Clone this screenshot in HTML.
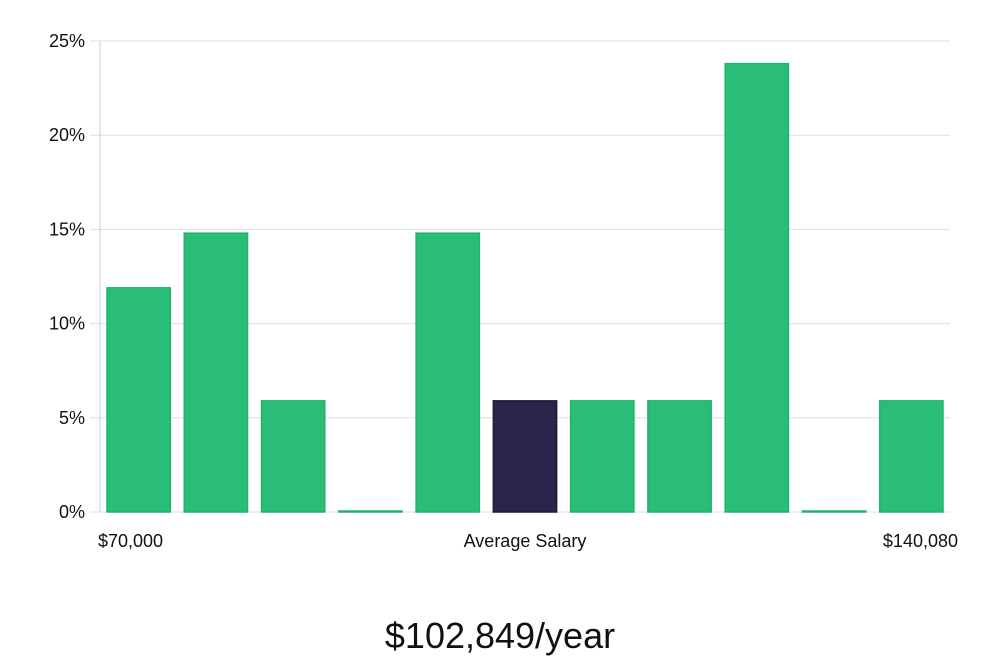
<!DOCTYPE html>
<html><head><meta charset="utf-8"><style>
body{margin:0;background:#fff;font-family:"Liberation Sans","DejaVu Sans",sans-serif;}
svg{display:block}
</style></head><body>
<svg width="1000" height="660" id="chart">
<g id="grid"></g><g id="bars"></g><g id="labels"></g>
<line x1="100" y1="41" x2="100" y2="512" stroke="#ccc"/>
<text x="98" y="547" font-size="18" fill="#111">$70,000</text>
<text x="525" y="547" font-size="18" fill="#111" text-anchor="middle">Average Salary</text>
<text x="958" y="547" font-size="18" fill="#111" text-anchor="end">$140,080</text>
<text x="500" y="648" font-size="36" fill="#111" text-anchor="middle">$102,849/year</text>
</svg>
<script>
const values=[11.9,14.8,5.9,0,14.8,5.9,5.9,5.9,23.8,0,5.9];
const highlightIndex=5;
const yTicks=[0,5,10,15,20,25];
const yTickLabels=["0%","5%","10%","15%","20%","25%"];
const NS="http://www.w3.org/2000/svg";
const x0=100,x1=950,yBase=512,yTop=41,yMax=25;
function y(v){return yBase-(v/yMax)*(yBase-yTop);}
const band=(x1-x0)/values.length;
function bx(i){return x0+i*band+7;}
const grid=document.getElementById('grid'),bars=document.getElementById('bars'),labels=document.getElementById('labels');
yTicks.forEach((t,i)=>{
 const l=document.createElementNS(NS,'line');
 
 
 l.setAttribute('x1',x0-10);l.setAttribute('x2',x1);l.setAttribute('y1',y(t));l.setAttribute('y2',y(t));
 l.setAttribute('stroke','#ddd');grid.appendChild(l);
 const tx=document.createElementNS(NS,'text');
 
 
 tx.setAttribute('x',85);tx.setAttribute('y',y(t)+6);tx.setAttribute('text-anchor','end');
 tx.setAttribute('font-size','18');tx.setAttribute('fill','#111');tx.textContent=yTickLabels[i];labels.appendChild(tx);
});
values.forEach((v,i)=>{
 const r=document.createElementNS(NS,'rect');
 
 
 const h=Math.max(yBase-y(v),1);
 r.setAttribute('x',bx(i));r.setAttribute('width',band-14);
 r.setAttribute('y',yBase-h);r.setAttribute('height',h);
 const hi=i===highlightIndex;
 r.setAttribute('fill',hi?'#2a2548':'#2abd78');
 r.setAttribute('stroke',hi?'#1d1a3a':'#21b36e');r.setAttribute('stroke-width','1.5');
 bars.appendChild(r);
});
</script>
</body></html>
